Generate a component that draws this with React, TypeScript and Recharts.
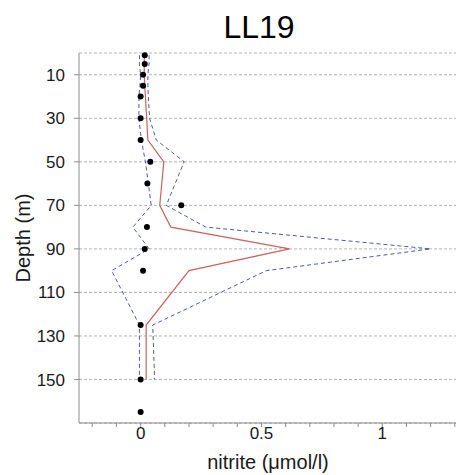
import { ScatterChart, Scatter, XAxis, YAxis, CartesianGrid } from 'recharts';

// observed nitrite at each sampling depth
const sampleDepths = [1, 5, 10, 15, 20, 30, 40, 50, 60, 70, 80, 90, 100, 125, 150, 165];
const sampleNitrite = [0.017, 0.017, 0.01, 0.01, 0, 0, 0, 0.04, 0.028, 0.168, 0.026, 0.017, 0.01, 0, 0, 0];

// model profile: mean and the dashed envelope
const profileDepths = [1, 5, 10, 15, 20, 30, 40, 50, 70, 80, 90, 100, 125, 150];
const profileMean = [0.015, 0.015, 0.015, 0.017, 0.02, 0.025, 0.03, 0.096, 0.079, 0.125, 0.616, 0.2, 0.023, 0.023];
const profileUpper = [0.035, 0.035, 0.03, 0.03, 0.032, 0.037, 0.065, 0.18, 0.106, 0.27, 1.2, 0.52, 0.05, 0.058];
const profileLower = [-0.005, -0.005, 0, -0.003, -0.007, -0.007, 0.003, 0.02, 0.044, -0.032, 0.035, -0.12, -0.005, -0.005];

const depthTicks = [10, 30, 50, 70, 90, 110, 130, 150];
const nitriteTicks = [-0.2, -0.1, 0, 0.1, 0.2, 0.3, 0.4, 0.5, 0.6, 0.7, 0.8, 0.9, 1, 1.1, 1.2, 1.3];
const labelledTicks: Record<string, string> = { '0': '0', '0.5': '0.5', '1': '1' };

const FONT = '"Liberation Sans", Arial, sans-serif';
const AXIS = '#8c8c8c';

const toPoints = (xs: number[], ds: number[]) => xs.map((x, i) => ({ x, depth: ds[i] }));

const samples = toPoints(sampleNitrite, sampleDepths);
const meanLine = toPoints(profileMean, profileDepths);
const upperLine = toPoints(profileUpper, profileDepths);
const lowerLine = toPoints(profileLower, profileDepths);

const NoMarker = () => <g />;
const Dot = (props: { cx?: number; cy?: number }) => <circle cx={props.cx} cy={props.cy} r={3} fill="#000" />;

export default function App() {
    return (
        <div style={{ position: 'absolute', left: 0, top: 0, width: 457, height: 475, background: '#fff' }}>
            <ScatterChart width={457} height={475} margin={{ top: 53, right: 1, bottom: 0, left: 0 }}>
                <CartesianGrid horizontal vertical={false} stroke="#b4b4b4" strokeDasharray="3 2" />
                <XAxis
                    type="number"
                    dataKey="x"
                    domain={[-0.255, 1.305]}
                    ticks={nitriteTicks}
                    interval={0}
                    height={52}
                    tickSize={4}
                    tickMargin={0}
                    stroke={AXIS}
                    tickFormatter={(v) => labelledTicks[String(v)] ?? ''}
                    tick={{ fontSize: 17, fill: '#1a1a1a', fontFamily: FONT }}
                />
                <YAxis
                    type="number"
                    dataKey="depth"
                    domain={[0, 170]}
                    reversed
                    ticks={depthTicks}
                    interval={0}
                    width={79}
                    tickSize={5}
                    tickMargin={9}
                    stroke={AXIS}
                    tick={{ fontSize: 17, fill: '#1a1a1a', fontFamily: FONT }}
                />
                <Scatter
                    data={upperLine}
                    line={{ stroke: '#4b5aa6', strokeWidth: 1, strokeDasharray: '4 3' }}
                    shape={NoMarker}
                    isAnimationActive={false}
                />
                <Scatter
                    data={lowerLine}
                    line={{ stroke: '#4b5aa6', strokeWidth: 1, strokeDasharray: '4 3' }}
                    shape={NoMarker}
                    isAnimationActive={false}
                />
                <Scatter
                    data={meanLine}
                    line={{ stroke: '#c8645e', strokeWidth: 1.2 }}
                    shape={NoMarker}
                    isAnimationActive={false}
                />
                <Scatter data={samples} fill="#000" shape={Dot} isAnimationActive={false} />
            </ScatterChart>
            <svg
                width={457}
                height={475}
                style={{ position: 'absolute', left: 0, top: 0, pointerEvents: 'none' }}
                fontFamily={FONT}
            >
                <text x={259} y={38} textAnchor="middle" fontSize={32} fill="#000">
                    LL19
                </text>
                <text x={268} y={469} textAnchor="middle" fontSize={20} fill="#1a1a1a">
                    nitrite (μmol/l)
                </text>
                <text x={30} y={238} textAnchor="middle" fontSize={20} fill="#1a1a1a" transform="rotate(-90, 30, 238)">
                    Depth (m)
                </text>
            </svg>
        </div>
    );
}
